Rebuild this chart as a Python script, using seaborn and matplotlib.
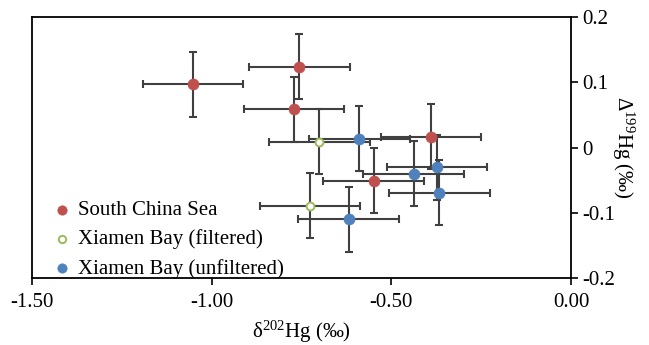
import numpy as np
import pandas as pd
import matplotlib
matplotlib.use("Agg")
import matplotlib.pyplot as plt
import seaborn as sns

# ---- data ----
scs_x = [-1.052, -0.756, -0.771, -0.390, -0.549]
scs_y = [0.097, 0.124, 0.059, 0.017, -0.051]
xmf_x = [-0.700, -0.726]
xmf_y = [0.009, -0.089]
xmu_x = [-0.589, -0.4375, -0.373, -0.366, -0.619]
xmu_y = [0.014, -0.040, -0.030, -0.069, -0.110]
x_err = 0.14
y_err = 0.05

groups = ["South China Sea", "Xiamen Bay (filtered)", "Xiamen Bay (unfiltered)"]
x_ticks = [-1.5, -1.0, -0.5, 0.0]
x_tick_labels = ["-1.50", "-1.00", "-0.50", "0.00"]
y_ticks = [0.2, 0.1, 0.0, -0.1, -0.2]
y_tick_labels = ["0.2", "0.1", "0", "-0.1", "-0.2"]

df = pd.DataFrame({
    "x": scs_x + xmf_x + xmu_x,
    "y": scs_y + xmf_y + xmu_y,
    "group": [groups[0]] * len(scs_x) + [groups[1]] * len(xmf_x) + [groups[2]] * len(xmu_x),
})

sns.set_theme(style="white")
plt.rcParams["font.family"] = ["Liberation Serif", "DejaVu Serif"]
plt.rcParams["axes.unicode_minus"] = False
plt.rcParams["mathtext.fontset"] = "custom"
plt.rcParams["mathtext.rm"] = "Liberation Serif"
plt.rcParams["mathtext.default"] = "regular"

fig = plt.figure(figsize=(6.49, 3.45), dpi=100)
ax = fig.add_axes([32 / 649, 1 - 278 / 345, (571 - 32) / 649, (278 - 17.3) / 345])

# error bars
ax.errorbar(df["x"], df["y"], xerr=x_err, yerr=y_err, fmt="none",
            ecolor="#404040", elinewidth=1.5, capsize=3.0, capthick=1.5, zorder=1)

colors = {groups[0]: "#C0504D", groups[1]: "#9BBB59", groups[2]: "#4F81BD"}
for g in groups:
    sub = df[df["group"] == g]
    if g == groups[1]:
        sns.scatterplot(data=sub, x="x", y="y", ax=ax, s=32, facecolor="white",
                        edgecolor=colors[g], linewidth=1.4, label=g, zorder=3)
    else:
        sns.scatterplot(data=sub, x="x", y="y", ax=ax, s=62, color=colors[g],
                        edgecolor=colors[g], linewidth=0.5, label=g, zorder=3)

ax.set_xlim(-1.5, 0.0)
ax.set_ylim(-0.2, 0.2)
ax.set_xticks(x_ticks)
ax.set_xticklabels(x_tick_labels)
ax.set_yticks(y_ticks)
ax.set_yticklabels(y_tick_labels)

ax.yaxis.tick_right()
ax.yaxis.set_label_position("right")
ax.tick_params(axis="both", direction="out", length=5, width=1.2, color="black",
               labelsize=15, labelcolor="black")
ax.tick_params(axis="y", right=True, left=False, pad=3)
ax.tick_params(axis="x", bottom=True, top=False, pad=6)

for sp in ax.spines.values():
    sp.set_visible(True)
    sp.set_color("black")
    sp.set_linewidth(1.3)

ax.set_xlabel("δ$^{202}$Hg (‰)", fontsize=15, color="black", labelpad=5)
ax.set_ylabel("Δ$^{199}$Hg (‰)", fontsize=15, color="black", rotation=270, labelpad=15)

leg = ax.legend(loc="lower left", bbox_to_anchor=(0.0, -0.058), frameon=False,
                fontsize=15, handletextpad=0.0, labelspacing=0.45, borderpad=0.4,
                handlelength=1.5, borderaxespad=0.3)
for t in leg.get_texts():
    t.set_color("black")
for h, sz in zip(leg.legend_handles, [45, 28, 45]):
    h.set_sizes([sz])

fig.savefig("out.png", dpi=100)
